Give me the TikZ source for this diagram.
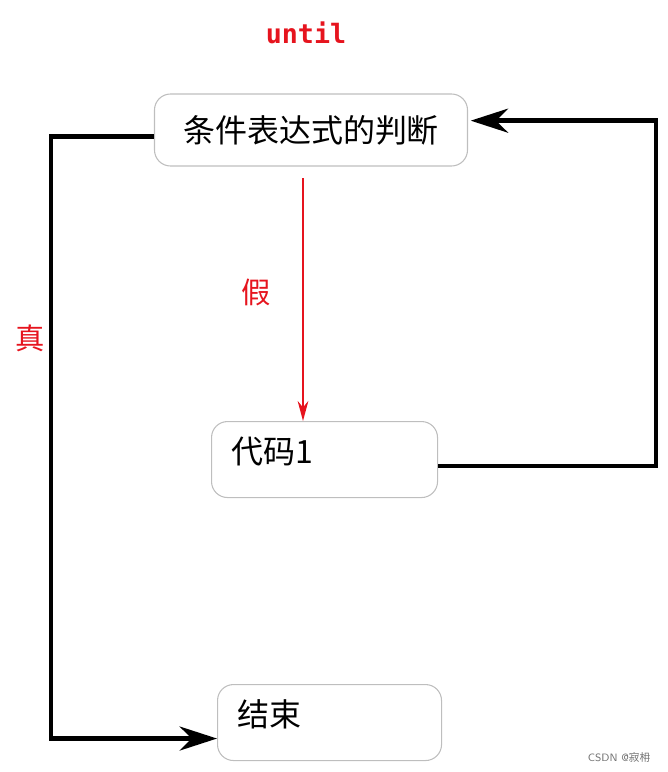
\documentclass[tikz,border=0pt]{standalone}
\usepackage{fontspec}
\newfontfamily\cjk{Noto Sans CJK SC}
\newfontfamily\codefont{DejaVu Sans Mono}
\usepackage{tikz}
\usetikzlibrary{arrows.meta, positioning, calc}
\usepackage{xcolor}
\definecolor{untilred}{RGB}{230,20,30}
\definecolor{boxgray}{RGB}{190,190,190}

\tikzset{
  box/.style={draw=boxgray, line width=0.8pt, rounded corners=12pt, inner sep=0pt, font=\cjk\fontsize{24}{28}\selectfont},
  conn/.style={line width=3.4pt, -{Stealth[length=28pt, width=18pt, inset=9pt]}},
  redlabel/.style={text=untilred, font=\cjk\fontsize{22}{26}\selectfont}
}

\begin{document}
\begin{tikzpicture}[x=0.75pt, y=-0.75pt]
  \useasboundingbox (0,0) rectangle (668,772);
  \node[text=untilred, font=\codefont\bfseries\fontsize{20}{24}\selectfont] (Until) at (306,33) {until};
  \node[box, minimum width=234.75pt, minimum height=54pt] (Condition) at (311,130) {条件表达式的判断};
  \node[box, anchor=north west, align=left, inner xsep=15pt, text width=139.5pt, text height=31.5pt, text depth=25.5pt] (CodeOne) at (211,421) {代码1};
  \node[box, anchor=north west, align=left, inner xsep=15pt, text width=138pt, text height=31.5pt, text depth=25.5pt] (EndBox) at (217,684) {结束};
  \node[redlabel] (FalseLabel) at (256,292) {假};
  \node[redlabel] (TrueLabel) at (30,338) {真};
  \node[text=black!55, font=\fontsize{8}{10}\selectfont\sffamily] (Mark) at (619,757) {CSDN @\cjk 寂枏};
  \coordinate (RedTop) at (303,178);
  \draw[untilred, line width=1.8pt, -{Stealth[length=15pt, width=8pt]}] (RedTop) -- (RedTop |- CodeOne.north);
  \draw[conn] ([yshift=-5pt]Condition.west) -- ++(-103,0) |- ([yshift=-12pt]EndBox.west);
  \draw[conn] ([yshift=-5pt]CodeOne.east) -- ++(218,0) |- ([yshift=7pt,xshift=2pt]Condition.east);
\end{tikzpicture}
\end{document}
